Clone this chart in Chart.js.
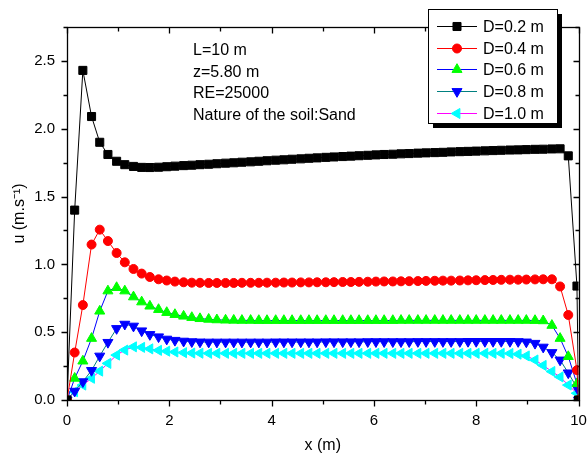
<!DOCTYPE html>
<html>
<head>
<meta charset="utf-8">
<script src="https://cdn.jsdelivr.net/npm/chart.js@4.4.1/dist/chart.umd.min.js"></script>
<style>
  html, body { margin: 0; padding: 0; background: #fff; }
  #wrap { width: 587px; height: 459px; }
</style>
</head>
<body>
<div id="wrap"><canvas id="chart" width="587" height="459"></canvas></div>
<script>
const FONT = '"Liberation Sans", Arial, sans-serif';

// x positions along the section (m)
const xPos = [0, 0.15, 0.31, 0.48, 0.64, 0.80, 0.97, 1.13, 1.30, 1.46, 1.62, 1.79, 1.95, 2.11, 2.28, 2.44,
  2.60, 2.77, 2.93, 3.10, 3.26, 3.42, 3.59, 3.75, 3.91, 4.08, 4.24, 4.40, 4.57, 4.73, 4.89, 5.06,
  5.22, 5.39, 5.55, 5.71, 5.88, 6.04, 6.20, 6.37, 6.53, 6.69, 6.86, 7.02, 7.19, 7.35, 7.51, 7.68,
  7.84, 8.00, 8.17, 8.33, 8.49, 8.66, 8.82, 8.98, 9.15, 9.31, 9.48, 9.64, 9.80, 9.97, 10];

// velocity u (m/s) for each depth D
const uD02 = [0, 1.40, 2.43, 2.09, 1.90, 1.81, 1.76, 1.735, 1.722, 1.715, 1.714, 1.716, 1.720, 1.724, 1.728, 1.731,
  1.735, 1.738, 1.742, 1.746, 1.749, 1.753, 1.756, 1.760, 1.764, 1.768, 1.771, 1.775, 1.778, 1.782, 1.785, 1.789,
  1.792, 1.795, 1.798, 1.801, 1.804, 1.807, 1.810, 1.812, 1.815, 1.817, 1.820, 1.822, 1.824, 1.826, 1.829, 1.831,
  1.833, 1.835, 1.837, 1.839, 1.841, 1.843, 1.844, 1.846, 1.848, 1.849, 1.851, 1.852, 1.80, 0.84, 0];
const uD04 = [0, 0.35, 0.70, 1.146, 1.256, 1.172, 1.084, 1.015, 0.966, 0.932, 0.907, 0.890, 0.881, 0.873, 0.868, 0.865,
  0.864, 0.863, 0.863, 0.863, 0.863, 0.864, 0.864, 0.864, 0.865, 0.865, 0.866, 0.866, 0.867, 0.867, 0.868, 0.868,
  0.869, 0.870, 0.870, 0.871, 0.872, 0.873, 0.874, 0.874, 0.875, 0.876, 0.877, 0.878, 0.879, 0.880, 0.880, 0.881,
  0.882, 0.883, 0.884, 0.885, 0.886, 0.887, 0.887, 0.888, 0.889, 0.890, 0.890, 0.837, 0.627, 0.22, 0];
const uD06 = [0, 0.16, 0.287, 0.454, 0.655, 0.804, 0.829, 0.804, 0.760, 0.723, 0.692, 0.667, 0.645, 0.630, 0.618, 0.608,
  0.600, 0.595, 0.591, 0.589, 0.588, 0.587, 0.587, 0.586, 0.586, 0.586, 0.586, 0.586, 0.586, 0.586, 0.586, 0.586,
  0.586, 0.586, 0.586, 0.586, 0.586, 0.586, 0.586, 0.586, 0.587, 0.587, 0.587, 0.587, 0.587, 0.587, 0.587, 0.587,
  0.587, 0.587, 0.587, 0.587, 0.587, 0.587, 0.587, 0.587, 0.586, 0.584, 0.550, 0.454, 0.32, 0.12, 0];
const uD08 = [0, 0.065, 0.135, 0.218, 0.324, 0.425, 0.527, 0.559, 0.545, 0.510, 0.483, 0.466, 0.449, 0.440, 0.434, 0.430,
  0.428, 0.427, 0.427, 0.427, 0.427, 0.427, 0.427, 0.427, 0.427, 0.428, 0.428, 0.428, 0.428, 0.428, 0.428, 0.429,
  0.429, 0.429, 0.429, 0.429, 0.430, 0.430, 0.430, 0.430, 0.430, 0.430, 0.431, 0.431, 0.431, 0.431, 0.431, 0.431,
  0.432, 0.432, 0.432, 0.432, 0.432, 0.432, 0.431, 0.428, 0.418, 0.390, 0.350, 0.295, 0.20, 0.09, 0];
const uD10 = [0, 0.061, 0.110, 0.160, 0.213, 0.270, 0.331, 0.368, 0.392, 0.388, 0.377, 0.366, 0.360, 0.354, 0.349, 0.346,
  0.345, 0.344, 0.344, 0.344, 0.344, 0.344, 0.344, 0.344, 0.344, 0.344, 0.344, 0.344, 0.344, 0.344, 0.344, 0.344,
  0.344, 0.344, 0.344, 0.344, 0.344, 0.344, 0.344, 0.344, 0.344, 0.344, 0.344, 0.344, 0.344, 0.344, 0.344, 0.344,
  0.344, 0.344, 0.344, 0.344, 0.344, 0.343, 0.338, 0.325, 0.295, 0.255, 0.210, 0.170, 0.11, 0.05, 0];

const seriesLabels = ['D=0.2 m', 'D=0.4 m', 'D=0.6 m', 'D=0.8 m', 'D=1.0 m'];
const notes = ['L=10 m', 'z=5.80 m', 'RE=25000', 'Nature of the soil:Sand'];

function toPoints(ys) {
  return xPos.map((x, i) => ({ x: x, y: ys[i] }));
}

function makeSet(label, ys, line, fill, style, rot, r) {
  return {
    label: label,
    data: toPoints(ys),
    borderColor: line,
    borderWidth: 1,
    pointStyle: style,
    pointRotation: rot,
    pointRadius: r,
    pointBackgroundColor: fill,
    pointBorderColor: fill,
    pointBorderWidth: 1,
    tension: 0,
    clip: 0   // marks are cut at the axes frame
  };
}

// axes box with Origin-style ticks
const frame = {
  id: 'frame',
  beforeDatasetsDraw(chart) {
    const { ctx, chartArea: a, scales } = chart;
    const L = Math.round(a.left) + 0.5, R = Math.round(a.right) + 0.5;
    const T = Math.round(a.top) + 0.5, B = Math.round(a.bottom) + 0.5;
    ctx.save();
    ctx.strokeStyle = '#000';
    ctx.lineWidth = 1.3;
    ctx.strokeRect(L, T, R - L, B - T);
    ctx.beginPath();
    scales.x.ticks.forEach(t => {
      const px = Math.round(scales.x.getPixelForValue(t.value)) + 0.5;
      const len = t.value % 2 === 0 ? 6 : 4;
      ctx.moveTo(px, B); ctx.lineTo(px, B + len);
      ctx.moveTo(px, T); ctx.lineTo(px, T + len);
    });
    scales.y.ticks.forEach(t => {
      const py = Math.round(scales.y.getPixelForValue(t.value)) + 0.5;
      const major = Math.abs(t.value * 2 - Math.round(t.value * 2)) < 1e-6;
      const len = major ? 6 : 4;
      ctx.moveTo(L, py); ctx.lineTo(L - len, py);
      ctx.moveTo(R, py); ctx.lineTo(R - len, py);
    });
    ctx.stroke();
    ctx.restore();
  }
};

// text block + boxed legend with shadow
const overlay = {
  id: 'overlay',
  afterDraw(chart) {
    const { ctx } = chart;
    ctx.save();
    ctx.fillStyle = '#000';
    ctx.font = '16px ' + FONT;
    ctx.textBaseline = 'alphabetic';
    notes.forEach((t, i) => ctx.fillText(t, 193, 55 + i * 21.5));

    const bx = 428, by = 9, bw = 129, bh = 114;
    ctx.fillRect(bx + 5, by + 5, bw, bh);
    ctx.fillStyle = '#fff';
    ctx.fillRect(bx, by, bw, bh);
    ctx.strokeStyle = '#000';
    ctx.lineWidth = 1;
    ctx.strokeRect(bx + 0.5, by + 0.5, bw, bh);

    chart.data.datasets.forEach((ds, i) => {
      const cy = Math.round(by + 17 + i * 21.7) + 0.5;
      ctx.strokeStyle = ds.borderColor;
      ctx.lineWidth = 1;
      ctx.beginPath();
      ctx.moveTo(bx + 9, cy);
      ctx.lineTo(bx + 49, cy);
      ctx.stroke();
      ctx.fillStyle = ds.pointBackgroundColor;
      ctx.strokeStyle = ds.pointBorderColor;
      Chart.helpers.drawPoint(ctx, {
        pointStyle: ds.pointStyle, rotation: ds.pointRotation,
        radius: ds.pointRadius, borderWidth: 1
      }, bx + 29, cy);
      ctx.fillStyle = '#000';
      ctx.font = '16px ' + FONT;
      ctx.textBaseline = 'middle';
      ctx.fillText(ds.label, bx + 55, cy + 1);
    });
    ctx.restore();
  }
};

new Chart(document.getElementById('chart'), {
  type: 'scatter',
  data: {
    datasets: [
      makeSet(seriesLabels[0], uD02, '#000000', '#000000', 'rect', 0, 5.7),
      makeSet(seriesLabels[1], uD04, '#ff0000', '#ff0000', 'circle', 0, 4.5),
      makeSet(seriesLabels[2], uD06, '#0000ff', '#00ff00', 'triangle', 0, 5.8),
      makeSet(seriesLabels[3], uD08, '#008080', '#0000ff', 'triangle', 180, 5.8),
      makeSet(seriesLabels[4], uD10, '#ff00ff', '#00ffff', 'triangle', -90, 5.8)
    ]
  },
  options: {
    responsive: false,
    animation: false,
    devicePixelRatio: 1,
    showLine: true,
    layout: { padding: { top: 27, right: 8.5, left: 0, bottom: 0 } },
    plugins: { legend: { display: false }, tooltip: { enabled: false } },
    scales: {
      x: {
        type: 'linear', min: 0, max: 10,
        grid: { display: false, drawTicks: false },
        border: { display: false },
        ticks: {
          stepSize: 1, autoSkip: false, maxRotation: 0, padding: 12,
          color: '#000', font: { family: FONT, size: 15 },
          callback: v => (v % 2 === 0 ? String(v) : '')
        },
        title: {
          display: true, text: 'x (m)', color: '#000',
          font: { family: FONT, size: 16 }, padding: { top: 0, bottom: 4 }
        },
        afterFit: s => { s.height = 59; s.paddingLeft = 0; s.paddingRight = 0; }
      },
      y: {
        type: 'linear', min: 0, max: 2.75,
        grid: { display: false, drawTicks: false },
        border: { display: false },
        ticks: {
          stepSize: 0.25, autoSkip: false, padding: 12,
          color: '#000', font: { family: FONT, size: 15 },
          callback: v => (Math.abs(v * 2 - Math.round(v * 2)) < 1e-6 ? v.toFixed(1) : '')
        },
        title: {
          display: true, text: 'u (m.s\u207B\u00B9)', color: '#000',
          font: { family: FONT, size: 16 }, padding: { top: 10, bottom: 0 }
        },
        afterFit: s => { s.width = 67; s.paddingTop = 0; s.paddingBottom = 0; }
      }
    }
  },
  plugins: [frame, overlay]
});
</script>
</body>
</html>
